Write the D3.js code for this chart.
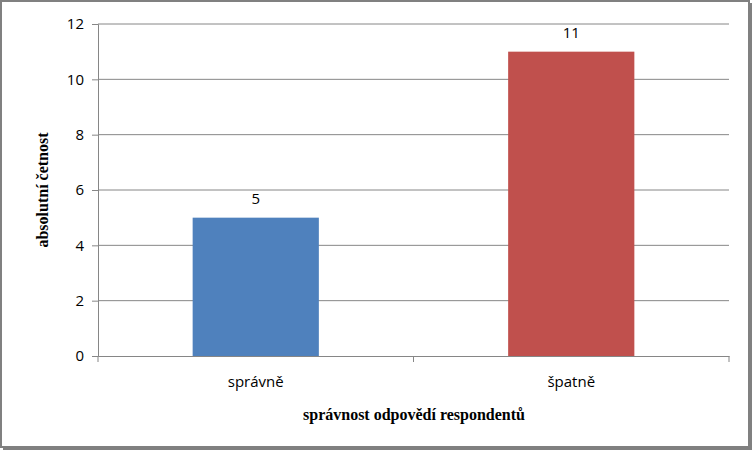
<!DOCTYPE html>
<html><head><meta charset="utf-8">
<script src="https://cdn.jsdelivr.net/npm/d3@7"></script>
<style>body{margin:0;background:#fff}</style>
</head><body><svg id="chart"></svg>
<script>
const categories = ["správně", "špatně"];
const values = [5, 11];
const colors = ["#4f81bd", "#c0504d"];
const yTicks = [0, 2, 4, 6, 8, 10, 12];

const svg = d3.select("#chart").attr("width", 753).attr("height", 451);
// frame with shadow
svg.append("rect").attr("x", 3).attr("y", 3).attr("width", 749).attr("height", 447).attr("fill", "#808080");
svg.append("rect").attr("x", 1).attr("y", 1).attr("width", 748).attr("height", 446)
  .attr("fill", "#fff").attr("stroke", "#808080").attr("stroke-width", 2);

const margin = {left: 98, right: 729, top: 24, bottom: 356};
const x = d3.scaleBand().domain(categories).range([margin.left, margin.right]).paddingInner(0.6).paddingOuter(0.3);
const y = d3.scaleLinear().domain([0, 12]).range([margin.bottom, margin.top]);

// gridlines
svg.append("g").selectAll("line").data(yTicks.filter(d => d > 0)).join("line")
  .attr("x1", margin.left).attr("x2", margin.right)
  .attr("y1", d => y(d)).attr("y2", d => y(d))
  .attr("stroke", "#868686").attr("stroke-width", 1);

svg.selectAll("rect.bar").data(values).join("rect").attr("class", "bar")
  .attr("x", (d, i) => x(categories[i])).attr("width", x.bandwidth())
  .attr("y", d => y(d)).attr("height", d => y(0) - y(d))
  .attr("fill", (d, i) => colors[i]);

const yAxis = svg.append("g").attr("transform", "translate(" + margin.left + ",0)")
  .call(d3.axisLeft(y).tickValues(yTicks).tickSize(6).tickPadding(8));
const xAxis = svg.append("g").attr("transform", "translate(0," + margin.bottom + ")")
  .call(d3.axisBottom(x).tickSize(0).tickPadding(20));
// category boundary ticks
const step = (margin.right - margin.left) / categories.length;
svg.append("g").selectAll("line").data([0, 1, 2]).join("line")
  .attr("x1", d => margin.left + d * step).attr("x2", d => margin.left + d * step)
  .attr("y1", margin.bottom).attr("y2", margin.bottom + 6).attr("stroke", "#868686");

[yAxis, xAxis].forEach(a => {
  a.select(".domain").attr("stroke", "#868686");
  a.selectAll(".tick line").attr("stroke", "#868686");
  a.selectAll("text").attr("font-family", "'Open Sans', sans-serif").attr("font-size", 15).attr("fill", "#000");
});

svg.selectAll("text.val").data(values).join("text").attr("class", "val")
  .attr("x", (d, i) => x(categories[i]) + x.bandwidth() / 2).attr("y", d => y(d) - 14)
  .attr("text-anchor", "middle").attr("font-family", "'Open Sans', sans-serif").attr("font-size", 15)
  .text(d => d);

svg.append("text").attr("transform", "translate(48,190) rotate(-90)").attr("text-anchor", "middle")
  .attr("font-family", "'Liberation Serif', serif").attr("font-weight", "bold").attr("font-size", 16)
  .text("absolutní četnost");
svg.append("text").attr("x", 414).attr("y", 420).attr("text-anchor", "middle")
  .attr("font-family", "'Liberation Serif', serif").attr("font-weight", "bold").attr("font-size", 16)
  .text("správnost odpovědí respondentů");
</script></body></html>
